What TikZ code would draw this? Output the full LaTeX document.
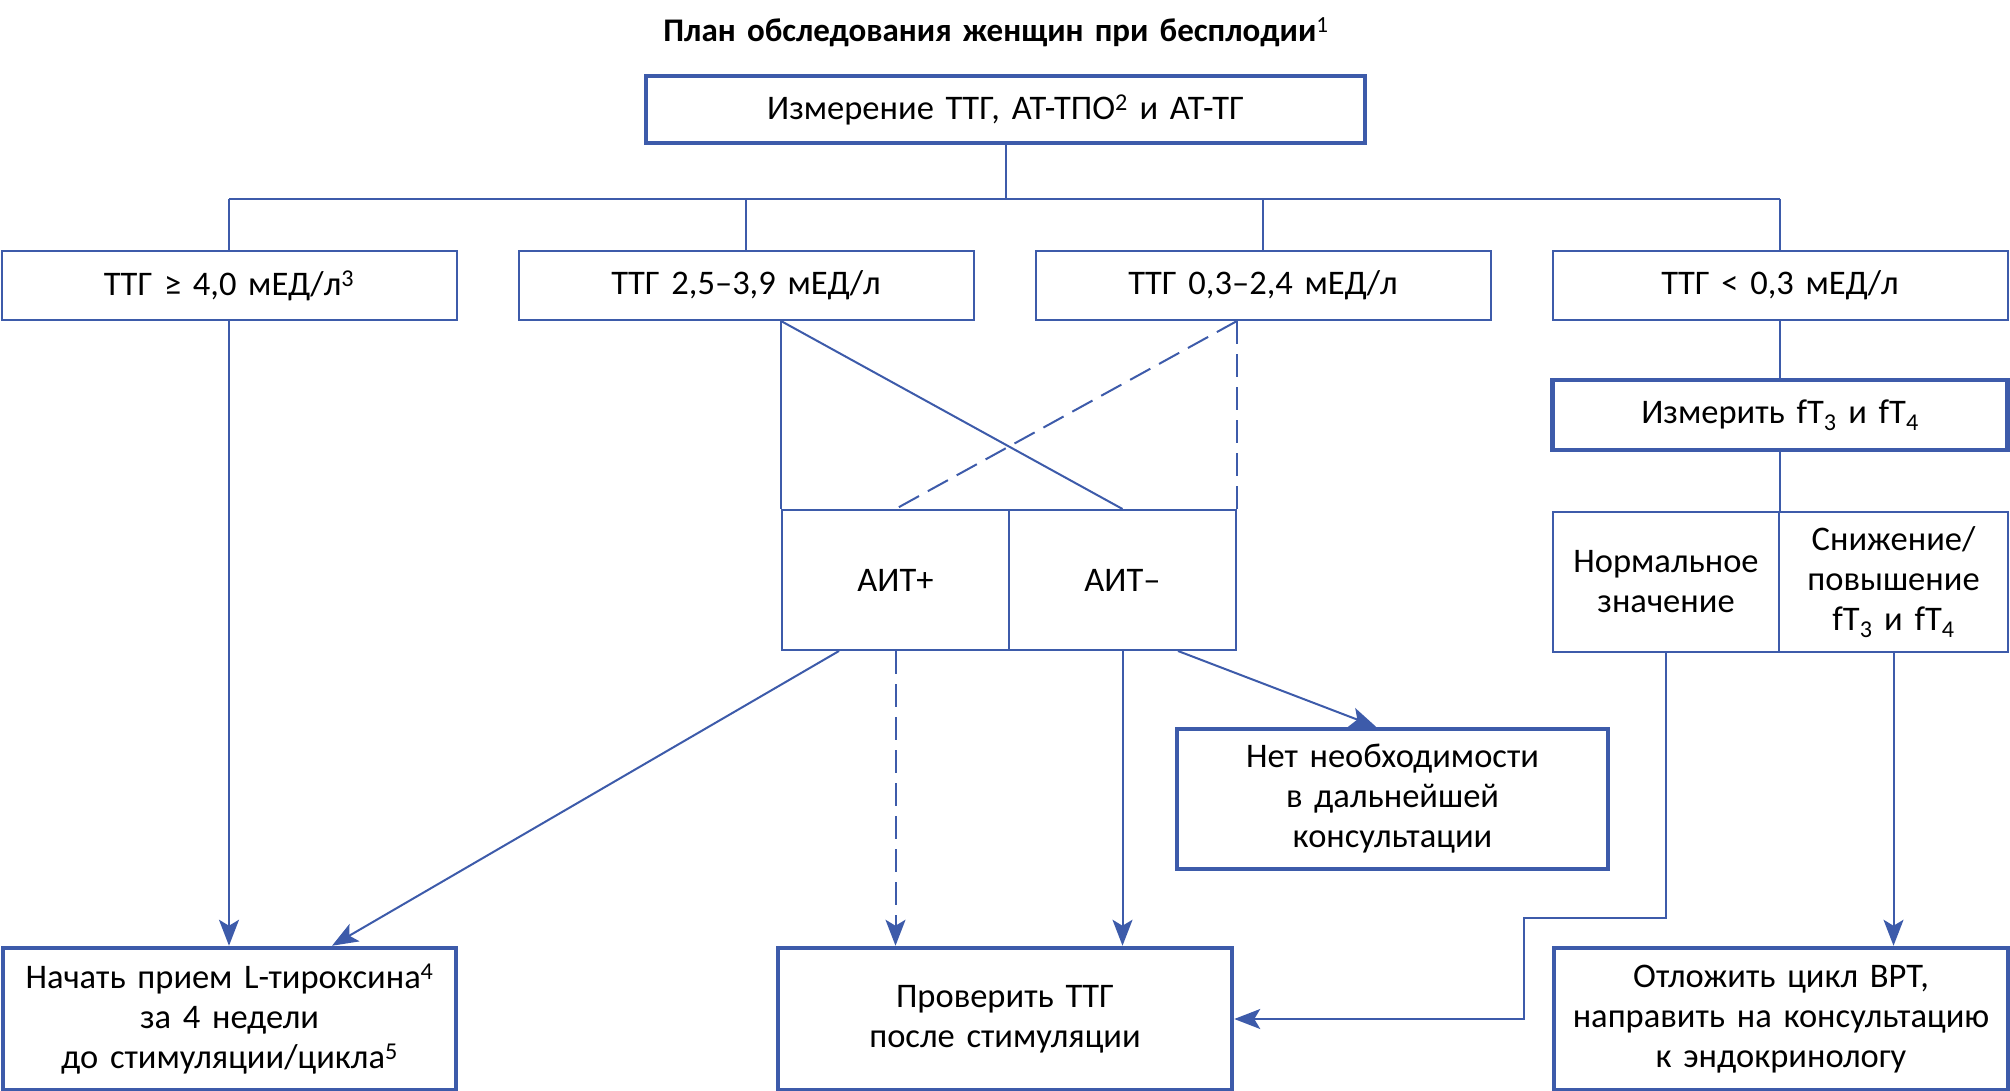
\documentclass[tikz,border=0pt]{standalone}
\usepackage{fontspec}
\setmainfont[WordSpace=1.5]{Carlito}
\usetikzlibrary{arrows.meta}

\definecolor{planblue}{RGB}{61,91,170}

\tikzset{
  box/.style={draw=planblue, line width=2pt, align=center, inner sep=0pt,
    minimum width=455pt, minimum height=69pt, font=\fontsize{34.5}{40}\selectfont},
  boldbox/.style={box, line width=4.5pt},
  link/.style={planblue, line width=2pt},
  arr/.style={link, -{Stealth[length=26pt, width=20pt, inset=6pt]}},
  dashlink/.style={link, dash pattern=on 23pt off 10pt}
}

\begin{document}
\begin{tikzpicture}[x=1pt, y=-1pt]
\useasboundingbox (0,0) rectangle (2010,1091);

% title and first step
\node (title) at (996,32) {\fontsize{33}{36}\selectfont\bfseries План обследования женщин при бесплодии\textsuperscript{\mdseries 1}};
\node[boldbox, minimum width=719pt, minimum height=67pt] (measure) at (1005.5,109.5) {Измерение ТТГ, АТ-ТПО\textsuperscript{2} и АТ-ТГ};

% TSH levels
\node[box] (tsh1) at (229,285.5) {ТТГ ≥ 4,0 мЕД/л\textsuperscript{3}};
\node[box] (tsh2) at (746,285.5) {ТТГ 2,5–3,9 мЕД/л};
\node[box] (tsh3) at (1263,285.5) {ТТГ 0,3–2,4 мЕД/л};
\node[box] (tsh4) at (1780,285.5) {ТТГ < 0,3 мЕД/л};

\coordinate (busL) at (229,199);
\coordinate (busR) at (1780,199);
\draw[link] (measure.south) -- (measure.south |- busL);
\draw[link] (busL) -- (busR);
\foreach \t in {tsh1,tsh2,tsh3,tsh4}
  \draw[link] (\t |- busL) -- (\t.north);

% AIT split
\node[box, minimum width=227pt, minimum height=140pt] (aitp) at (895.5,580) {АИТ+};
\node[box, minimum width=227pt, minimum height=140pt] (aitm) at (1122.5,580) {АИТ–};
\draw[link] (aitp.north west |- tsh2.south) -- (aitp.north west);
\draw[link] (aitp.north west |- tsh2.south) -- (aitm.north);
\draw[dashlink] (aitm.north east |- tsh3.south) -- (aitp.north);
\draw[dashlink] (aitm.north east |- tsh3.south) -- (aitm.north east);

% fT3 / fT4 branch
\node[boldbox, minimum height=70pt] (free) at (1780,415) {Измерить fT\textsubscript{3} и fT\textsubscript{4}};
\node[box, minimum width=226pt, minimum height=140pt] (normal) at (1666,582) {Нормальное\\значение};
\node[box, minimum width=229pt, minimum height=140pt] (change) at (1893.5,582) {Снижение/\\повышение\\fT\textsubscript{3} и fT\textsubscript{4}};
\draw[link] (tsh4.south) -- (free.north);
\draw[link] (free.south) -- (normal.north east);

% outcomes
\node[boldbox, minimum width=431pt, minimum height=140pt] (nomore) at (1392.5,799) {Нет необходимости\\в дальнейшей\\консультации};
\node[boldbox, minimum width=453pt, minimum height=142pt] (start) at (229.5,1019) {Начать прием L-тироксина\textsuperscript{4}\\за 4 недели\\до стимуляции/цикла\textsuperscript{5}};
\node[boldbox, minimum width=454pt, minimum height=142pt] (check) at (1005,1019) {Проверить ТТГ\\после стимуляции};
\node[boldbox, minimum width=454pt, minimum height=142pt] (delay) at (1781,1019) {Отложить цикл ВРТ,\\направить на консультацию\\к эндокринологу};

\draw[arr] (tsh1.south) -- (tsh1.south |- start.north);
\draw[arr] ([xshift=-56.5pt]aitp.south) -- ([xshift=102.5pt]start.north);
\draw[arr, dash pattern=on 23pt off 10pt] (aitp.south) -- (aitp.south |- check.north);
\draw[arr] (aitm.south) -- (aitm.south |- check.north);
\draw[arr] ([xshift=55.5pt]aitm.south) -- ([xshift=-16.5pt]nomore.north);
%\draw[arr] (normal.south) -- (check.east);
\coordinate (bend) at (1524,918);
\draw[arr] (normal.south) |- (bend) |- (check.east);
\draw[arr] (change.south) -- (change.south |- delay.north);

\end{tikzpicture}
\end{document}
